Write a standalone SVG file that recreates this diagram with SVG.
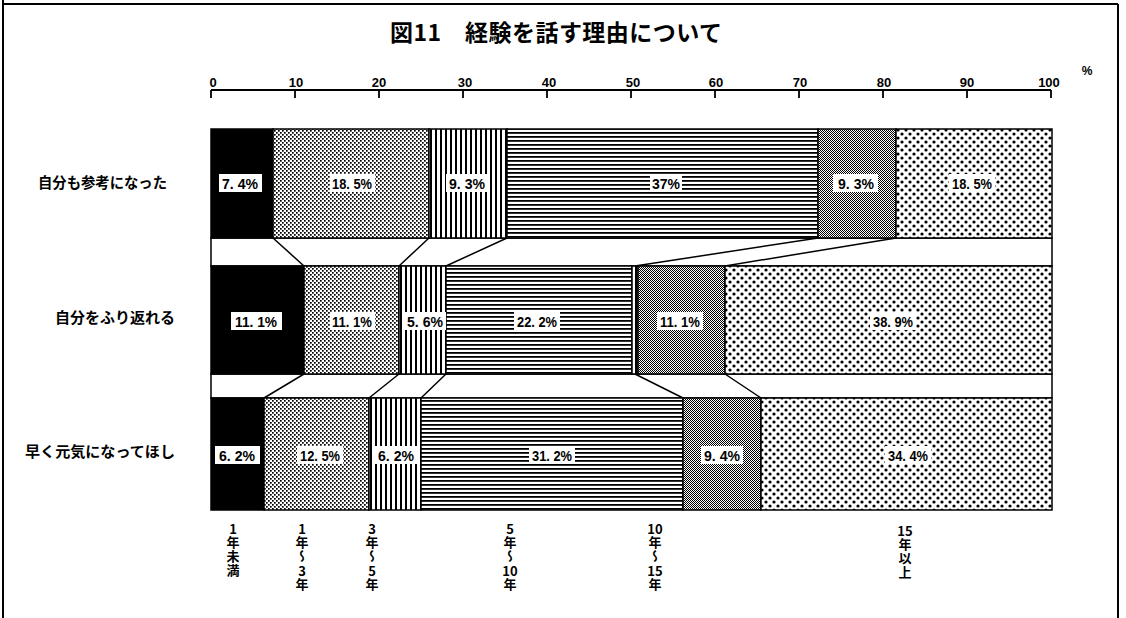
<svg xmlns="http://www.w3.org/2000/svg" width="1126" height="618" viewBox="0 0 1126 618">
<style>
.frame{stroke:#000;stroke-width:2;fill:none}
.seg{stroke:#000;stroke-width:1.5}
.gap{fill:#fff;stroke:#000;stroke-width:1.5}
.con{stroke:#000;stroke-width:1.5;fill:none}
.axis{stroke:#000;stroke-width:1.8;fill:none}
.tk{font-family:"Liberation Sans",Arial,sans-serif;font-weight:bold;font-size:13px;text-anchor:middle;fill:#000}
.pl{font-family:"Liberation Sans",Arial,sans-serif;font-weight:bold;font-size:15px;text-anchor:middle;fill:#000}
.lb{fill:#fff}
.cat{font-family:"Noto Sans CJK JP","Noto Sans CJK SC",sans-serif;font-weight:bold;font-size:14.5px;fill:#000}
.vt{font-family:"Noto Sans CJK JP","Noto Sans CJK SC",sans-serif;font-weight:bold;font-size:13px;text-anchor:middle;fill:#000}
.vv{font-family:"Noto Sans CJK JP","Noto Sans CJK SC",sans-serif;font-weight:bold;font-size:13px;fill:#000;writing-mode:vertical-rl;letter-spacing:1px}
.title{font-family:"Noto Sans CJK JP","Noto Sans CJK SC",sans-serif;font-weight:bold;font-size:23px;fill:#000}
</style>
<defs>
<pattern id="pDots" width="4" height="4" patternUnits="userSpaceOnUse"><rect width="4" height="4" fill="#fff"/><rect x="0" y="0" width="1.7" height="1.7" fill="#000"/><rect x="2" y="2" width="1.7" height="1.7" fill="#000"/></pattern>
<pattern id="pV" width="5" height="5" patternUnits="userSpaceOnUse"><rect width="5" height="5" fill="#fff"/><rect x="0" y="0" width="2" height="5" fill="#000"/></pattern>
<pattern id="pH" width="4" height="4" patternUnits="userSpaceOnUse"><rect width="4" height="4" fill="#fff"/><rect x="0" y="0" width="4" height="1.8" fill="#000"/></pattern>
<pattern id="pGray" width="2" height="2" patternUnits="userSpaceOnUse"><rect width="2" height="2" fill="#fff"/><rect x="0" y="0" width="1" height="1" fill="#000"/><rect x="1" y="1" width="1" height="1" fill="#000"/></pattern>
<pattern id="pBig" width="8" height="8" patternUnits="userSpaceOnUse"><rect width="8" height="8" fill="#fff"/><circle cx="2" cy="2" r="1.6" fill="#000"/><circle cx="6" cy="6" r="1.6" fill="#000"/></pattern>
</defs>
<rect width="1126" height="618" fill="#fff"/>
<g id="frame">
<path class="frame" d="M3 0 V618 M3 4 H1118 M1118 4 V618"/>
</g>
<g id="title">
<text class="title" x="390" y="41" textLength="332" lengthAdjust="spacing">図11　経験を話す理由について</text>
</g>
<g id="axis">
<path class="axis" d="M211 90 H1051 M211 90 V98 M295 90 V98 M379 90 V98 M463 90 V98 M547 90 V98 M631 90 V98 M715 90 V98 M799 90 V98 M883 90 V98 M967 90 V98 M1051 90 V98"/>
<text class="tk" x="213" y="87">0</text>
<text class="tk" x="296" y="87">10</text>
<text class="tk" x="379" y="87">20</text>
<text class="tk" x="465" y="87">30</text>
<text class="tk" x="549" y="87">40</text>
<text class="tk" x="633" y="87">50</text>
<text class="tk" x="716" y="87">60</text>
<text class="tk" x="800" y="87">70</text>
<text class="tk" x="884" y="87">80</text>
<text class="tk" x="967" y="87">90</text>
<text class="tk" x="1049" y="87">100</text>
<text class="tk" x="1087" y="75" style="font-size:12px">%</text>
</g>
<g id="connectors">
<rect class="gap" x="211" y="238" width="841" height="28"/>
<rect class="gap" x="211" y="374" width="841" height="24"/>
<path class="con" d="M273 238 L304 266 M429 238 L399 266 M507 238 L446 266 M818 238 L635 266 M896 238 L725 266"/>
<path class="con" d="M304 374 L264 398 M399 374 L369 398 M446 374 L421 398 M635 374 L683 398 M725 374 L761 398"/>
</g>
<g id="bar1">
<rect class="seg" x="211" y="129" width="62" height="109" fill="#000"/>
<rect class="seg" x="273" y="129" width="156" height="109" fill="url(#pDots)"/>
<rect class="seg" x="429" y="129" width="78" height="109" fill="url(#pV)"/>
<rect class="seg" x="507" y="129" width="311" height="109" fill="url(#pH)"/>
<rect class="seg" x="818" y="129" width="78" height="109" fill="url(#pGray)"/>
<rect class="seg" x="896" y="129" width="156" height="109" fill="url(#pBig)"/>
<rect class="lb" x="219" y="174" width="43" height="18"/><text class="pl" x="240" y="189" textLength="36" lengthAdjust="spacingAndGlyphs">7. 4%</text>
<rect class="lb" x="330" y="174" width="45" height="18"/><text class="pl" x="352" y="189" textLength="40" lengthAdjust="spacingAndGlyphs">18. 5%</text>
<rect class="lb" x="446" y="174" width="43" height="18"/><text class="pl" x="467" y="189" textLength="36" lengthAdjust="spacingAndGlyphs">9. 3%</text>
<rect class="lb" x="650" y="174" width="32" height="18"/><text class="pl" x="666" y="189" textLength="28" lengthAdjust="spacingAndGlyphs">37%</text>
<rect class="lb" x="833" y="174" width="45" height="18"/><text class="pl" x="856" y="189" textLength="36" lengthAdjust="spacingAndGlyphs">9. 3%</text>
<rect class="lb" x="949" y="174" width="46" height="18"/><text class="pl" x="972" y="189" textLength="40" lengthAdjust="spacingAndGlyphs">18. 5%</text>
</g>
<g id="bar2">
<rect class="seg" x="211" y="266" width="93" height="108" fill="#000"/>
<rect class="seg" x="304" y="266" width="95" height="108" fill="url(#pDots)"/>
<rect class="seg" x="399" y="266" width="47" height="108" fill="url(#pV)"/>
<rect class="seg" x="446" y="266" width="186" height="108" fill="url(#pH)"/>
<rect class="seg" x="632" y="266" width="6" height="108" fill="url(#pV)"/>
<rect class="seg" x="638" y="266" width="87" height="108" fill="url(#pGray)"/>
<rect class="seg" x="725" y="266" width="327" height="108" fill="url(#pBig)"/>
<rect class="lb" x="231" y="312" width="51" height="18"/><text class="pl" x="256" y="327" textLength="42" lengthAdjust="spacingAndGlyphs">11. 1%</text>
<rect class="lb" x="330" y="312" width="45" height="18"/><text class="pl" x="352" y="327" textLength="40" lengthAdjust="spacingAndGlyphs">11. 1%</text>
<rect class="lb" x="404" y="312" width="42" height="18"/><text class="pl" x="425" y="327" textLength="36" lengthAdjust="spacingAndGlyphs">5. 6%</text>
<rect class="lb" x="514" y="312" width="46" height="18"/><text class="pl" x="537" y="327" textLength="40" lengthAdjust="spacingAndGlyphs">22. 2%</text>
<rect class="lb" x="657" y="312" width="46" height="18"/><text class="pl" x="680" y="327" textLength="40" lengthAdjust="spacingAndGlyphs">11. 1%</text>
<rect class="lb" x="870" y="312" width="46" height="18"/><text class="pl" x="893" y="327" textLength="40" lengthAdjust="spacingAndGlyphs">38. 9%</text>
</g>
<g id="bar3">
<rect class="seg" x="211" y="398" width="53" height="112" fill="#000"/>
<rect class="seg" x="264" y="398" width="105" height="112" fill="url(#pDots)"/>
<rect class="seg" x="369" y="398" width="52" height="112" fill="url(#pV)"/>
<rect class="seg" x="421" y="398" width="262" height="112" fill="url(#pH)"/>
<rect class="seg" x="683" y="398" width="78" height="112" fill="url(#pGray)"/>
<rect class="seg" x="761" y="398" width="291" height="112" fill="url(#pBig)"/>
<rect class="lb" x="215" y="446" width="45" height="18"/><text class="pl" x="237" y="461" textLength="36" lengthAdjust="spacingAndGlyphs">6. 2%</text>
<rect class="lb" x="297" y="446" width="46" height="18"/><text class="pl" x="320" y="461" textLength="40" lengthAdjust="spacingAndGlyphs">12. 5%</text>
<rect class="lb" x="375" y="446" width="43" height="18"/><text class="pl" x="396" y="461" textLength="36" lengthAdjust="spacingAndGlyphs">6. 2%</text>
<rect class="lb" x="529" y="446" width="46" height="18"/><text class="pl" x="552" y="461" textLength="40" lengthAdjust="spacingAndGlyphs">31. 2%</text>
<rect class="lb" x="701" y="446" width="42" height="18"/><text class="pl" x="722" y="461" textLength="36" lengthAdjust="spacingAndGlyphs">9. 4%</text>
<rect class="lb" x="885" y="446" width="46" height="18"/><text class="pl" x="908" y="461" textLength="40" lengthAdjust="spacingAndGlyphs">34. 4%</text>
</g>
<g id="categories">
<text class="cat" x="38" y="188" textLength="129" lengthAdjust="spacingAndGlyphs">自分も参考になった</text>
<text class="cat" x="55" y="323" textLength="120" lengthAdjust="spacingAndGlyphs">自分をふり返れる</text>
<text class="cat" x="25" y="457" textLength="150" lengthAdjust="spacingAndGlyphs">早く元気になってほし</text>
</g>
<g id="period-labels">
<g id="lg1"><text class="vt" x="233" y="534">1</text><text class="vv" x="233" y="536">年未満</text></g>
<g id="lg2"><text class="vt" x="302" y="534">1</text><text class="vv" x="302" y="536">年〜</text><text class="vt" x="302" y="576">3</text><text class="vv" x="302" y="578">年</text></g>
<g id="lg3"><text class="vt" x="372" y="534">3</text><text class="vv" x="372" y="536">年〜</text><text class="vt" x="372" y="576">5</text><text class="vv" x="372" y="578">年</text></g>
<g id="lg4"><text class="vt" x="510" y="534">5</text><text class="vv" x="510" y="536">年〜</text><text class="vt" x="510" y="576">10</text><text class="vv" x="510" y="578">年</text></g>
<g id="lg5"><text class="vt" x="655" y="534">10</text><text class="vv" x="655" y="536">年〜</text><text class="vt" x="655" y="576">15</text><text class="vv" x="655" y="578">年</text></g>
<g id="lg6"><text class="vt" x="905" y="536">15</text><text class="vv" x="905" y="538">年以上</text></g>
</g>
</svg>
